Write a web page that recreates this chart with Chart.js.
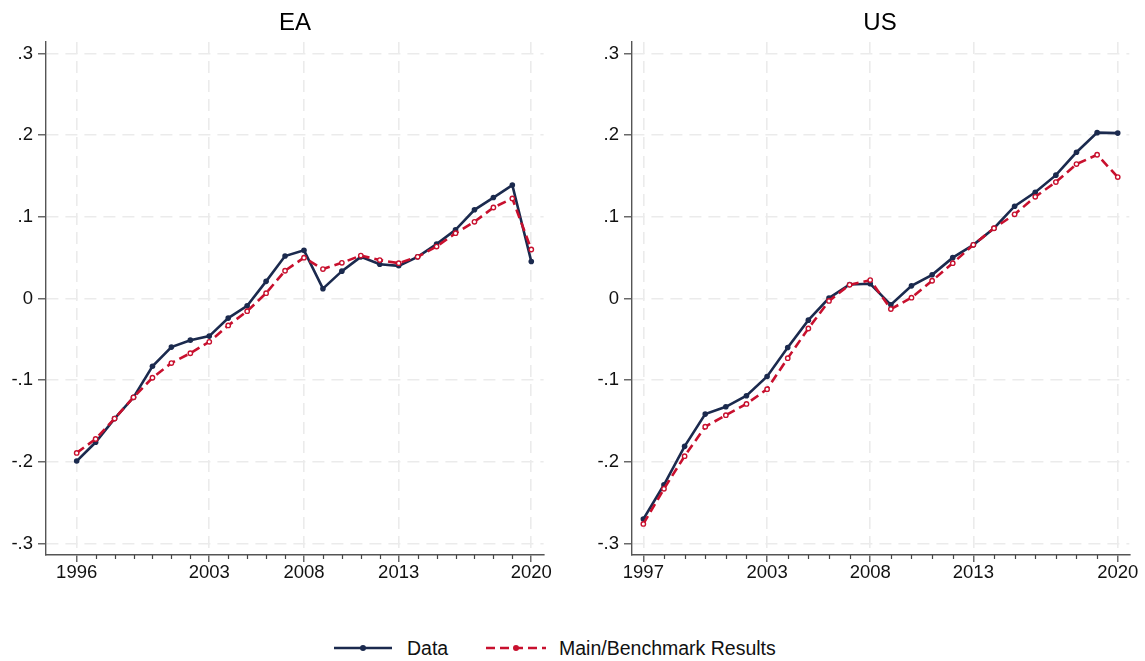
<!DOCTYPE html>
<html>
<head>
<meta charset="utf-8">
<script src="https://cdn.jsdelivr.net/npm/chart.js@4.4.1/dist/chart.umd.min.js"></script>
<style>
  html, body { margin: 0; padding: 0; background: #fff; }
  body { width: 1145px; height: 661px; position: relative; overflow: hidden; font-family: "Liberation Sans", Arial, sans-serif; }
  canvas { position: absolute; top: 0; }
  .title { position: absolute; top: 10px; width: 200px; text-align: center; font-size: 24px; line-height: 24px; color: #000; }
  .legend { position: absolute; top: 638px; font-size: 19.5px; line-height: 20px; color: #111; white-space: nowrap; }
  .legend svg { position: absolute; top: 0; }
</style>
</head>
<body>
<canvas id="eaChart" width="570" height="600" style="left:0"></canvas>
<canvas id="usChart" width="575" height="600" style="left:570px"></canvas>
<div class="title" style="left:195px">EA</div>
<div class="title" style="left:780px">US</div>
<div class="legend" style="left:334px">
  <svg width="60" height="20" style="left:0"><line x1="0" y1="10" x2="58" y2="10" stroke="#1b2a4e" stroke-width="2.6"/><circle cx="29" cy="10" r="3" fill="#1b2a4e"/></svg>
  <span style="position:absolute;left:73px">Data</span>
  <svg width="62" height="20" style="left:152px"><line x1="0" y1="10" x2="60" y2="10" stroke="#c8102e" stroke-width="2.6" stroke-dasharray="9 5"/><circle cx="30" cy="10" r="3" fill="#c8102e"/></svg>
  <span style="position:absolute;left:225px">Main/Benchmark Results</span>
</div>
<script>
const NAVY = "#1b2a4e";
const RED = "#c8102e";

const eaYears = [1996, 1997, 1998, 1999, 2000, 2001, 2002, 2003, 2004, 2005, 2006, 2007, 2008,
  2009, 2010, 2011, 2012, 2013, 2014, 2015, 2016, 2017, 2018, 2019, 2020];
const eaData = [-0.199, -0.176, -0.147, -0.121, -0.083, -0.0595, -0.051, -0.046, -0.024, -0.009, 0.021, 0.052, 0.059,
  0.012, 0.0335, 0.051, 0.042, 0.040, 0.051, 0.0666, 0.084, 0.1086, 0.1236, 0.1388, 0.0453];
const eaModel = [-0.189, -0.172, -0.147, -0.121, -0.097, -0.079, -0.067, -0.053, -0.033, -0.0155, 0.0065, 0.034, 0.050,
  0.036, 0.0437, 0.0526, 0.047, 0.0433, 0.051, 0.0636, 0.080, 0.0939, 0.1114, 0.1224, 0.060];
const eaMajor = [1996, 2003, 2008, 2013, 2020];

const usYears = [1997, 1998, 1999, 2000, 2001, 2002, 2003, 2004, 2005, 2006, 2007, 2008,
  2009, 2010, 2011, 2012, 2013, 2014, 2015, 2016, 2017, 2018, 2019, 2020];
const usData = [-0.270, -0.228, -0.181, -0.1415, -0.1326, -0.119, -0.0955, -0.060, -0.0265, 0.0005, 0.0172, 0.018,
  -0.0077, 0.0155, 0.029, 0.050, 0.0657, 0.086, 0.113, 0.130, 0.151, 0.179, 0.203, 0.2025];
const usModel = [-0.276, -0.233, -0.193, -0.157, -0.1428, -0.129, -0.111, -0.073, -0.0367, -0.003, 0.0168, 0.0225,
  -0.013, 0.001, 0.0217, 0.0433, 0.0657, 0.086, 0.103, 0.1245, 0.1425, 0.1645, 0.176, 0.1486];
const usMajor = [1997, 2003, 2008, 2013, 2020];

const yTicks = [-0.3, -0.2, -0.1, 0, 0.1, 0.2, 0.3];
const yLabels = ["-.3", "-.2", "-.1", "0", ".1", ".2", ".3"];

const gridDash = [12, 7];
const font = { family: "'Liberation Sans', Arial, sans-serif", size: 18.5 };

// short unlabeled ticks for every year that has no label
const minorTicks = {
  id: "minorTicks",
  afterDraw(chart, args, opts) {
    const x = chart.scales.x, ctx = chart.ctx;
    ctx.save();
    ctx.strokeStyle = "#444";
    ctx.lineWidth = 1.2;
    ctx.beginPath();
    opts.years.forEach(v => {
      if (opts.major.includes(v)) return;
      const px = Math.round(x.getPixelForValue(v)) + 0.5;
      ctx.moveTo(px, x.top);
      ctx.lineTo(px, x.top + 4);
    });
    ctx.stroke();
    ctx.restore();
  }
};

function panel(id, years, data, model, major, xMin, xMax, pad) {
  const pts = arr => arr.map((v, i) => ({ x: years[i], y: v }));
  return new Chart(document.getElementById(id), {
    type: "line",
    data: {
      datasets: [
        { label: "Data", data: pts(data), borderColor: NAVY, backgroundColor: NAVY, borderWidth: 2.6,
          pointRadius: 2.8, pointBackgroundColor: NAVY, pointBorderWidth: 0, tension: 0, order: 1 },
        { label: "Main/Benchmark Results", data: pts(model), borderColor: RED, backgroundColor: RED, borderWidth: 2.6,
          borderDash: [9, 5], pointRadius: 2.2, pointBackgroundColor: "#fff", pointBorderColor: RED,
          pointBorderWidth: 1.4, tension: 0, order: 0 }
      ]
    },
    plugins: [minorTicks],
    options: {
      responsive: false,
      animation: false,
      layout: { padding: pad },
      plugins: { legend: { display: false }, tooltip: { enabled: false }, title: { display: false },
        minorTicks: { years, major } },
      scales: {
        x: {
          type: "linear", min: xMin, max: xMax,
          afterBuildTicks: s => { s.ticks = years.map(v => ({ value: v })); },
          afterFit: s => { s.height = 30; },
          ticks: { autoSkip: false, maxRotation: 0, padding: 0, color: "#111", font,
            callback: v => major.includes(v) ? String(v) : "" },
          grid: { color: c => major.includes(c.tick && c.tick.value) ? "#ebebeb" : "rgba(0,0,0,0)",
            lineWidth: 1.6, tickColor: c => major.includes(c.tick && c.tick.value) ? "#444" : "rgba(0,0,0,0)",
            tickLength: 7, tickWidth: 1.2, tickBorderDash: [] },
          border: { color: "#555", width: 1.4, dash: gridDash }
        },
        y: {
          min: -0.314, max: 0.314,
          afterBuildTicks: s => { s.ticks = yTicks.map(v => ({ value: v })); },
          afterFit: s => { s.width = 40; },
          ticks: { padding: 5, color: "#111", font,
            callback: v => yLabels[yTicks.findIndex(t => Math.abs(t - v) < 1e-6)] },
          grid: { color: "#ebebeb", lineWidth: 1.6, tickColor: "#444", tickLength: 8, tickWidth: 1.2, tickBorderDash: [] },
          border: { color: "#555", width: 1.4, dash: gridDash }
        }
      }
    }
  });
}

panel("eaChart", eaYears, eaData, eaModel, eaMajor, 1994.38, 2020.65,
  { left: 6, right: 26.4, top: 42, bottom: 15 });
panel("usChart", usYears, usData, usModel, usMajor, 1996.45, 2020.56,
  { left: 22, right: 15.7, top: 42, bottom: 15 });
</script>
</body>
</html>
